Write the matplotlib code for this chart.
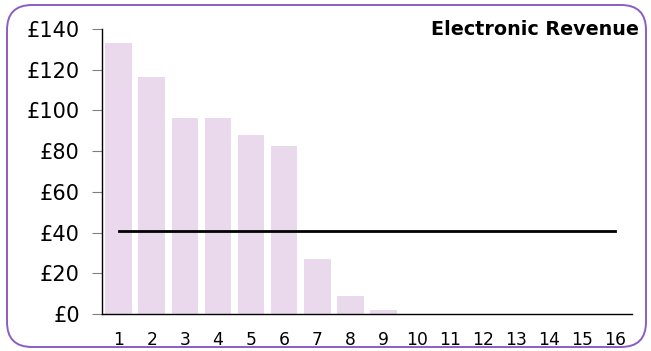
import matplotlib as mpl
mpl.use("Agg")
import matplotlib.pyplot as plt
from matplotlib.patches import FancyBboxPatch
from matplotlib.ticker import FuncFormatter

# data
categories = [str(i) for i in range(1, 17)]
revenue = [133, 116.6, 96.4, 96.1, 88, 82.3, 27.2, 8.8, 2, 0, 0, 0, 0, 0, 0, 0]
average = [40.6] * 16
y_ticks = [0, 20, 40, 60, 80, 100, 120, 140]

plt.rcParams["font.family"] = ["DejaVu Sans"]

fig = plt.figure(figsize=(6.51, 3.51), dpi=100)
ax = fig.add_axes([0.1567, 0.1054, 0.8141, 0.812])

x = list(range(len(categories)))
ax.bar(x, revenue, width=0.8, color="#ead9ec", zorder=1)
ax.plot(x, average, color="black", linewidth=2, zorder=2)

ax.set_xlim(-0.5, len(categories) - 0.5)
ax.set_ylim(0, 140)
ax.set_xticks(x)
ax.set_xticklabels(categories, fontsize=12.3)
ax.set_yticks(y_ticks)
ax.yaxis.set_major_formatter(FuncFormatter(lambda v, p: "£%d" % v))
ax.tick_params(axis="y", labelsize=15, length=7, color="#808080", pad=9)
ax.tick_params(axis="x", length=0, pad=12)

for side in ["top", "right"]:
    ax.spines[side].set_visible(False)
for side in ["left", "bottom"]:
    ax.spines[side].set_linewidth(1)
    ax.spines[side].set_color("black")

fig.text(0.982, 0.915, "Electronic Revenue", ha="right", va="center",
         fontsize=13.8, fontweight="bold")

border = FancyBboxPatch((0.07, 0.04), 6.39, 3.42,
                        boxstyle="round,pad=0,rounding_size=0.25",
                        transform=fig.dpi_scale_trans, fill=False,
                        edgecolor="#8c5cc4", linewidth=1.4)
fig.patches.append(border)

fig.savefig("out.png", dpi=100)
